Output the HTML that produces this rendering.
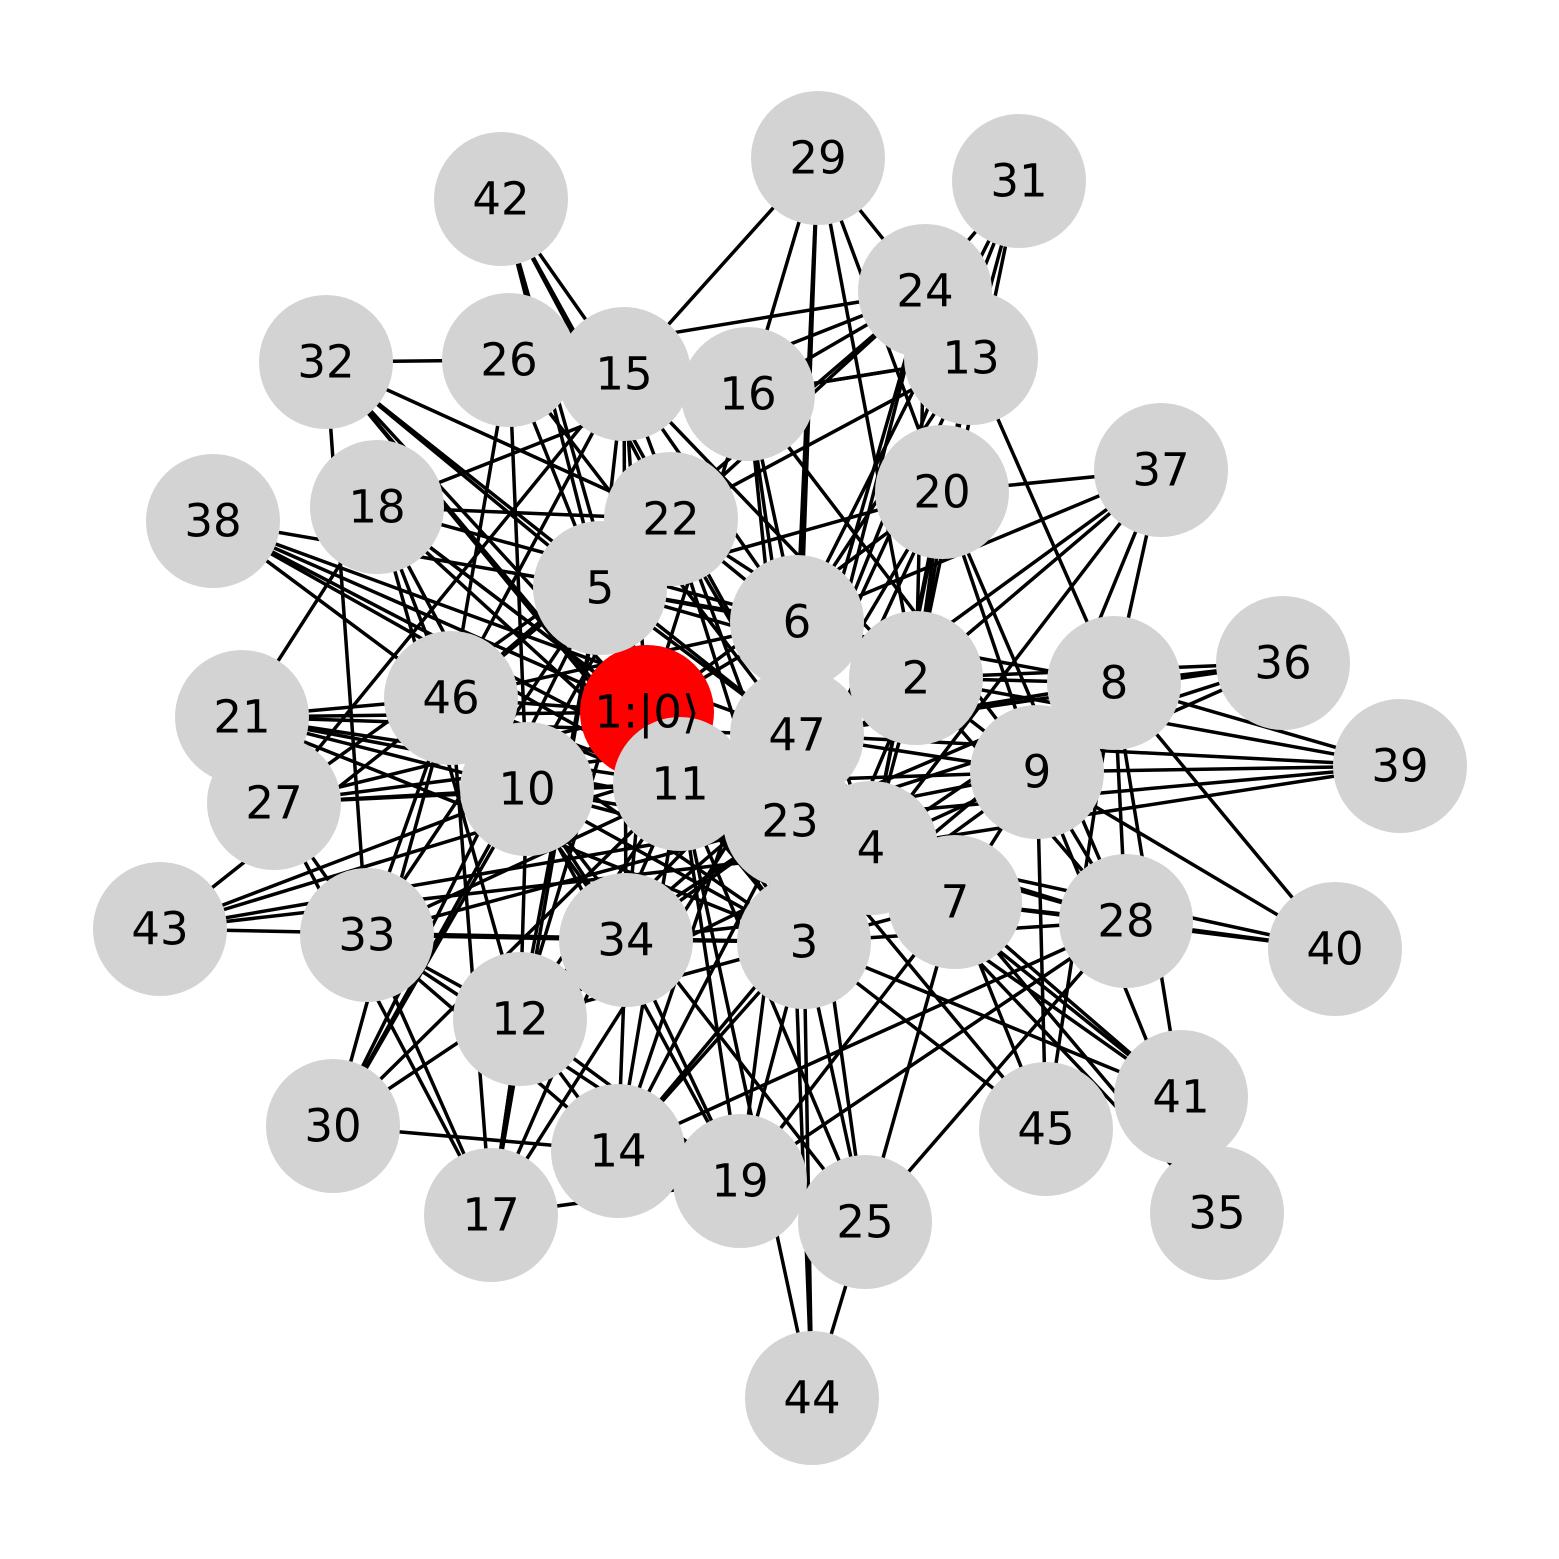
<!DOCTYPE html>
<html><head><meta charset="utf-8"><style>
html,body{margin:0;padding:0;background:#fff;}
svg{display:block;}
text{font-family:"DejaVu Sans","Liberation Sans",sans-serif;font-size:45px;fill:#000;}
</style></head><body>
<svg id="g" width="1559" height="1559" viewBox="0 0 1559 1559"></svg>
<script>
const nodeIds=[1,2,3,4,5,6,7,8,9,10,11,12,13,14,15,16,17,18,19,20,21,22,23,24,25,26,27,28,29,30,31,32,33,34,35,36,37,38,39,40,41,42,43,44,45,46,47];
const nodeX=[647,916,804,871,600,797,955,1114,1037,527,680,520,971,618,624,748,491,377,740,942,242,671,790,925,865,509,274,1126,818,333,1019,326,367,626,1217,1283,1161,213,1400,1335,1181,501,160,812,1046,451,797];
const nodeY=[712,678,942,848,588,622,902,683,772,789,784,1019,358,1151,374,394,1215,507,1181,492,717,519,821,291,1222,360,803,921,158,1126,181,362,935,940,1213,663,470,521,766,949,1097,199,929,1398,1129,698,735];
const edges=[
[42,5],[42,22],[42,15],[42,1],[42,47],[31,24],[31,13],[31,2],[31,47],[31,6],
[29,15],[29,16],[29,6],[29,2],[29,24],[29,47],[29,20],[29,23],
[37,20],[37,8],[37,2],[37,47],[37,6],[37,4],[37,9],
[36,8],[36,2],[36,9],[36,47],[36,23],
[39,9],[39,8],[39,4],[39,23],[39,47],[39,2],
[40,28],[40,9],[40,8],[40,4],[40,7],
[35,7],[35,4],[35,9],[41,7],[41,3],[41,8],[41,23],[41,4],
[45,9],[45,7],[45,23],[45,8],[45,3],
[44,3],[44,25],[44,23],[44,11],
[25,3],[25,11],[25,47],[25,28],[25,7],[25,10],
[17,19],[17,46],[17,5],[17,27],[17,47],[17,11],[17,12],
[30,14],[30,11],[30,46],[30,10],[30,5],[30,23],[30,22],
[43,10],[43,46],[43,23],[43,47],[43,3],[43,4],
[38,1],[38,47],[38,46],[38,11],[38,5],[38,23],
[21,18],[21,1],[21,23],[21,3],[21,46],[21,47],[21,11],[21,10],
[27,1],[27,47],[27,22],[27,33],[27,15],[27,10],[27,11],
[32,26],[32,5],[32,1],[32,11],[32,47],[32,3],[32,22],[32,33],
[26,15],[26,10],[26,46],[26,5],[26,47],[26,24],
[18,1],[18,10],[18,46],[18,22],[18,6],[18,11],[18,23],[18,12],[18,24],
[15,5],[15,1],[15,46],[15,23],[15,34],[15,6],[15,2],
[16,6],[16,24],[16,13],[16,47],[16,3],[16,9],[16,1],
[13,2],[13,6],[13,8],[13,47],[13,4],[13,22],[13,16],
[24,2],[24,47],[24,46],[24,5],[24,23],
[20,2],[20,9],[20,28],[20,47],[20,4],[20,5],[20,23],[20,1],
[22,5],[22,47],[22,2],[22,46],[22,12],[22,3],[22,6],
[5,47],[5,2],[5,33],[5,3],[5,6],[5,12],[5,8],
[6,2],[6,47],[6,3],[6,4],[6,1],[6,46],[6,14],
[2,8],[2,9],[2,47],[2,4],[2,3],[2,11],[2,28],[2,12],
[8,9],[8,47],[8,4],[8,28],[8,23],[8,3],
[9,47],[9,4],[9,7],[9,28],[9,11],[9,23],[9,3],
[47,23],[47,11],[47,4],[47,7],[47,19],[47,12],[47,33],
[1,11],[1,10],[1,46],[1,23],[1,3],[1,34],
[46,10],[46,11],[46,33],[46,3],[46,34],[46,7],
[10,11],[10,3],[10,34],[10,12],[10,19],[10,4],[10,7],
[11,23],[11,3],[11,4],[11,14],[11,12],[11,19],[11,28],
[23,4],[23,3],[23,7],[23,34],[23,14],[23,33],[23,28],
[4,7],[4,3],[4,28],[4,14],[4,12],
[7,3],[7,28],[7,19],[7,34],
[3,34],[3,19],[3,14],[3,12],[3,33],[3,28],
[33,34],[33,12],[33,14],[33,17],[33,19],
[34,12],[34,14],[34,19],[12,14],[12,19],[12,17],[14,19],[14,28],[19,25],[28,19]
];
const svg=document.getElementById('g');
const NS='http://www.w3.org/2000/svg';
function px(id){return nodeX[nodeIds.indexOf(id)];}
function py(id){return nodeY[nodeIds.indexOf(id)];}
const eg=document.createElementNS(NS,'g');


svg.appendChild(eg);
edges.forEach(e=>{
  const l=document.createElementNS(NS,'line');
  l.setAttribute('x1',px(e[0]));l.setAttribute('y1',py(e[0]));
  l.setAttribute('x2',px(e[1]));l.setAttribute('y2',py(e[1]));
  l.setAttribute('stroke','#000');l.setAttribute('stroke-width','3.5');
  
  
  eg.appendChild(l);
});
const ng=document.createElementNS(NS,'g');


svg.appendChild(ng);
const lg=document.createElementNS(NS,'g');


svg.appendChild(lg);
nodeIds.forEach((id,i)=>{
  const c=document.createElementNS(NS,'circle');
  c.setAttribute('cx',nodeX[i]);c.setAttribute('cy',nodeY[i]);c.setAttribute('r',67);
  c.setAttribute('fill',id===1?'#ff0000':'#d3d3d3');
  
  
  ng.appendChild(c);
  const t=document.createElementNS(NS,'text');
  t.setAttribute('x',nodeX[i]);t.setAttribute('y',nodeY[i]);
  t.setAttribute('text-anchor','middle');t.setAttribute('dominant-baseline','central');
  t.textContent=id===1?'1:|0⟩':String(id);
  
  
  lg.appendChild(t);
});
</script>
</body></html>
